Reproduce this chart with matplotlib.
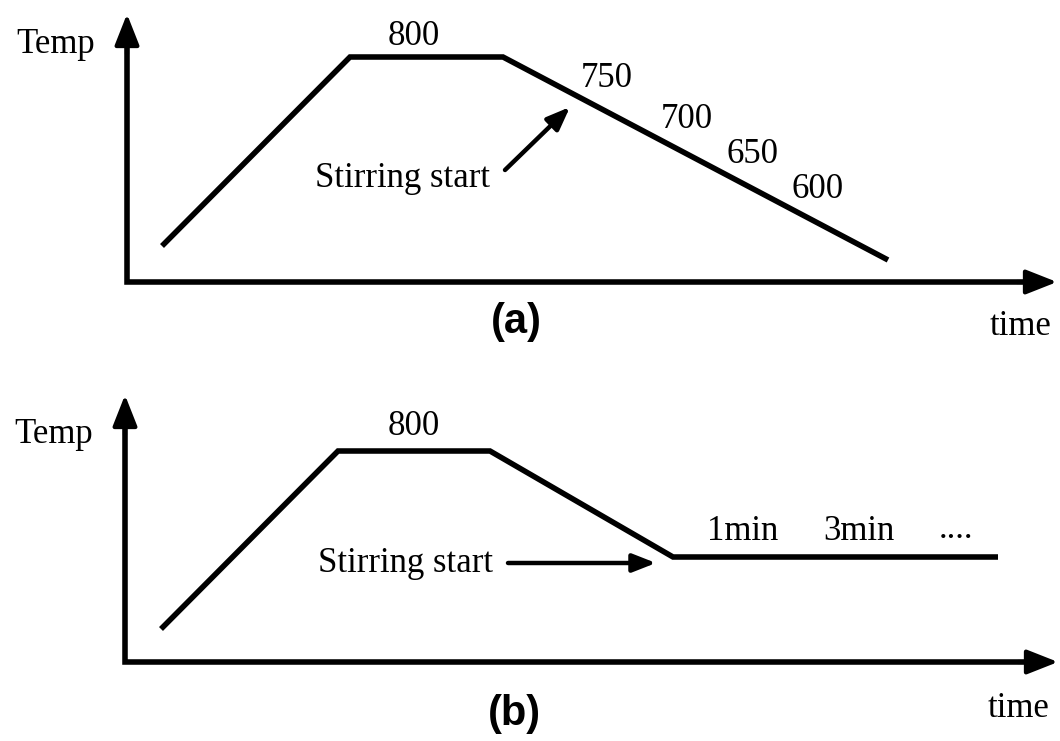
import matplotlib.pyplot as plt

# schematic heat treatment profiles (arbitrary time / temperature units)
tiempo_a = [3.5, 22.3, 37.6, 76.1]
temp_a = [3.6, 22.5, 22.5, 2.2]

tiempo_b = [3.6, 21.3, 36.5, 54.8, 87.3]
temp_b = [3.3, 21.1, 21.1, 10.5, 10.5]

# temperatures written along the cooling line of (a)
etiquetas_a = ['800', '750', '700', '650', '600']
pos_etiq_a = [(28.7, 23.7), (48.0, 19.5), (56.0, 15.4), (62.6, 11.9), (69.1, 8.4)]

# holding times written above the plateau of (b)
etiquetas_b = ['800', '1min', '3min', '....']
pos_etiq_b = [(28.9, 22.7), (61.8, 12.2), (73.4, 12.2), (83.1, 12.4)]

SERIF = 'Liberation Serif'
SANS = 'Liberation Sans'

fig = plt.figure(figsize=(10.6, 7.41), dpi=100)
axA = fig.add_axes([0, 1 - 370 / 741, 1, 370 / 741])
axB = fig.add_axes([0, 0, 1, 371 / 741])

axA.set_xlim(-12.7, 93.3)
axA.set_ylim(-8.8, 28.2)
axB.set_xlim(-12.5, 93.5)
axB.set_ylim(-7.9, 29.2)


def ejes(ax, ytop, xright):
    # axis lines as one polyline, arrow heads on top
    ax.plot([0, 0, xright - 1.5], [ytop - 1.5, 0, 0], color='black', lw=4,
            solid_joinstyle='miter', solid_capstyle='butt')
    flecha = dict(arrowstyle='-|>,head_length=1.9,head_width=0.75', lw=3, color='black',
                  shrinkA=0, shrinkB=0)
    ax.annotate('', xy=(0, ytop), xytext=(0, ytop - 4), arrowprops=flecha)
    ax.annotate('', xy=(xright, 0), xytext=(xright - 4, 0), arrowprops=flecha)
    ax.axis('off')


ejes(axA, 26.8, 93.0)
ejes(axB, 26.7, 93.3)

axA.plot(tiempo_a, temp_a, color='black', lw=4, solid_joinstyle='miter', solid_capstyle='butt')
axB.plot(tiempo_b, temp_b, color='black', lw=4, solid_joinstyle='miter', solid_capstyle='butt')

for txt, (x, y) in zip(etiquetas_a, pos_etiq_a):
    axA.text(x, y, txt, ha='center', va='baseline', fontsize=25, family=SERIF)
for txt, (x, y) in zip(etiquetas_b, pos_etiq_b):
    axB.text(x, y, txt, ha='center', va='baseline', fontsize=25, family=SERIF)

# stirring start arrows
flecha_txt = dict(arrowstyle='-|>,head_length=1.4,head_width=0.55', lw=3.2, color='black',
                  shrinkA=0, shrinkB=0)
axA.text(27.6, 9.5, 'Stirring start', ha='center', va='baseline', fontsize=25, family=SERIF)
axA.annotate('', xy=(44.3, 17.5), xytext=(37.8, 11.2), arrowprops=flecha_txt)
axB.text(28.1, 9.0, 'Stirring start', ha='center', va='baseline', fontsize=25, family=SERIF)
axB.annotate('', xy=(53.1, 9.9), xytext=(38.3, 9.9), arrowprops=flecha_txt)

for ax, ty, lab, ly, tmy in [(axA, 22.9, '(a)', -4.0, -5.3), (axB, 21.9, '(b)', -5.2, -5.5)]:
    ax.text(-7.1, ty, 'Temp', ha='center', va='baseline', fontsize=25, family=SERIF)
    ax.text(92.4, tmy, 'time', ha='right', va='baseline', fontsize=25, family=SERIF)
    ax.text(38.9, ly, lab, ha='center', va='center', fontsize=30, family=SANS, weight='bold')

plt.savefig('out.png', dpi=100)
